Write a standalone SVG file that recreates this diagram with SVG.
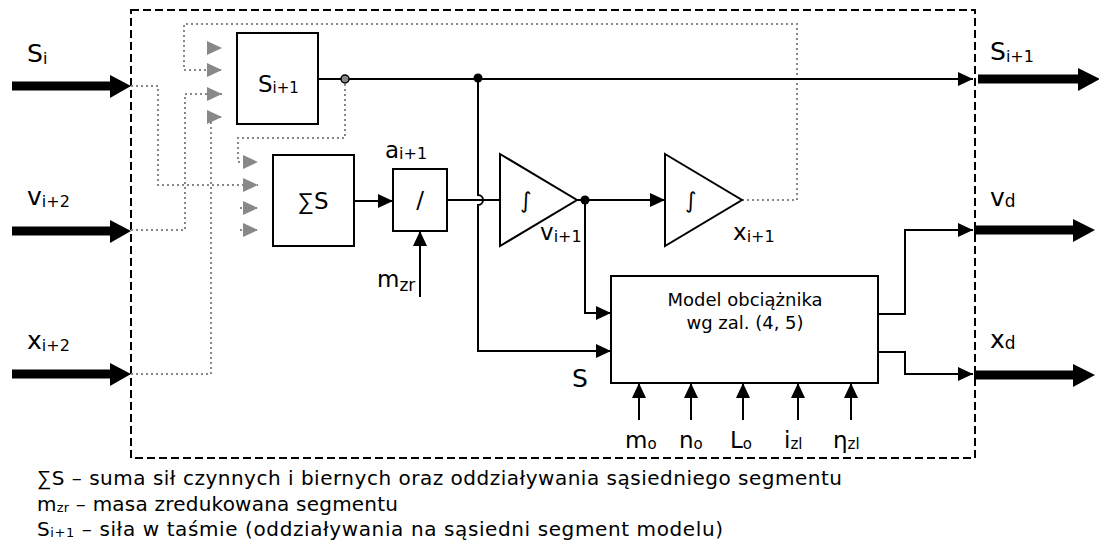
<svg xmlns="http://www.w3.org/2000/svg" width="1099" height="544" viewBox="0 0 1099 544">
<style>
text{font-family:"DejaVu Sans","Liberation Sans",sans-serif;fill:#000}
.ln{fill:none;stroke:#000;stroke-width:2}
.dt{fill:none;stroke:#888;stroke-width:2;stroke-dasharray:2 3}
.box{fill:#fff;stroke:#000;stroke-width:2}
.big{stroke:#000;stroke-width:9}
.lbl{font-size:25px}
.mid{font-size:23px}
.sub{font-size:15px}
.sig{font-family:"Liberation Sans",sans-serif}
</style>
<defs>
<marker id="ab" markerUnits="userSpaceOnUse" markerWidth="15" markerHeight="14" refX="15" refY="7" orient="auto"><path d="M0,0L15,7L0,14z" fill="#000"/></marker>
<marker id="ag" markerUnits="userSpaceOnUse" markerWidth="15" markerHeight="14" refX="15" refY="7" orient="auto"><path d="M0,0L15,7L0,14z" fill="#888"/></marker>
</defs>
<rect x="131" y="10" width="844" height="448" fill="none" stroke="#000" stroke-width="2" stroke-dasharray="8 4"/>
<g id="connectors">
<path class="dt" d="M742,200H797V24H184V70H222" marker-end="url(#ag)"/>
<path class="dt" d="M213,48H222" marker-end="url(#ag)"/>
<path class="dt" d="M131,86H158V185H258" marker-end="url(#ag)"/>
<path class="dt" d="M131,230H185V94H222" marker-end="url(#ag)"/>
<path class="dt" d="M131,374H211V117H222" marker-end="url(#ag)"/>
<path class="dt" d="M345,79V138H238V162H258" marker-end="url(#ag)"/>
<path class="dt" d="M240,208H258" marker-end="url(#ag)"/>
<path class="dt" d="M240,230H258" marker-end="url(#ag)"/>
<path class="ln" d="M318,79H973" marker-end="url(#ab)"/>
<path class="ln" d="M354,201H393" marker-end="url(#ab)"/>
<path class="ln" d="M420,297V231" marker-end="url(#ab)"/>
<path class="ln" d="M447,200H500"/>
<path class="ln" d="M478,78V195A5,5 0 0 1 478,205V351H611" marker-end="url(#ab)"/>
<path class="ln" d="M577,200H665" marker-end="url(#ab)"/>
<path class="ln" d="M585,200V313H611" marker-end="url(#ab)"/>
<path class="ln" d="M878,314H905V230H973" marker-end="url(#ab)"/>
<path class="ln" d="M878,352H905V374H973" marker-end="url(#ab)"/>
<path class="ln" d="M639,420V383" marker-end="url(#ab)"/>
<path class="ln" d="M691,420V383" marker-end="url(#ab)"/>
<path class="ln" d="M743,420V383" marker-end="url(#ab)"/>
<path class="ln" d="M798,420V383" marker-end="url(#ab)"/>
<path class="ln" d="M851,420V383" marker-end="url(#ab)"/>
<circle cx="345" cy="79" r="4" fill="#888" stroke="#000" stroke-width="1.5"/>
<circle cx="478" cy="78" r="4.5" fill="#000"/>
<circle cx="585" cy="200" r="4.5" fill="#000"/>
<line class="big" x1="12" y1="86" x2="112" y2="86"/><path d="M110,75L131,86L110,98z"/>
<line class="big" x1="12" y1="231" x2="112" y2="231"/><path d="M110,220L131,231L110,243z"/>
<line class="big" x1="12" y1="374" x2="112" y2="374"/><path d="M110,363L131,374L110,386z"/>
<line class="big" x1="978" y1="79" x2="1080" y2="79"/><path d="M1078,68L1100,79L1078,91z"/>
<line class="big" x1="974" y1="230" x2="1075" y2="230"/><path d="M1073,219L1095,230L1073,242z"/>
<line class="big" x1="974" y1="375" x2="1075" y2="375"/><path d="M1073,364L1095,375L1073,387z"/>
</g>
<g id="io-labels">
<text class="lbl" x="27" y="62">S<tspan font-size="16" dy="2">i</tspan></text>
<text class="lbl" x="27" y="205">v<tspan font-size="16" dy="2">i+2</tspan></text>
<text class="lbl" x="27" y="349">x<tspan font-size="16" dy="2">i+2</tspan></text>
<text class="lbl" x="990" y="60">S<tspan font-size="16" dy="2">i+1</tspan></text>
<text class="lbl" x="990" y="206">v<tspan font-size="17" dy="1">d</tspan></text>
<text class="lbl" x="990" y="348">x<tspan font-size="17" dy="1">d</tspan></text>
</g>
<g id="box-S">
<rect class="box" x="237" y="33" width="81" height="91"/>
<text class="mid" x="258" y="92">S<tspan class="sub" dy="1">i+1</tspan></text>
</g>
<g id="box-sum">
<rect class="box" x="273" y="155" width="81" height="91"/>
<text class="mid" x="313" y="209" text-anchor="middle"><tspan class="sig">∑</tspan>S</text>
</g>
<g id="box-div">
<rect class="box" x="393" y="169" width="54" height="62"/>
<text class="mid" x="420" y="208" text-anchor="middle">/</text>
<text class="mid" x="385" y="158">a<tspan font-size="16" dy="1">i+1</tspan></text>
<text class="mid" x="377" y="287">m<tspan font-size="17" dy="4">zr</tspan></text>
</g>
<g id="int1">
<path class="box" d="M500,154L577,200L500,246z"/>
<text font-size="22" x="520" y="208">∫</text>
<text class="mid" x="540" y="240">v<tspan font-size="16" dy="2">i+1</tspan></text>
</g>
<g id="int2">
<path class="box" d="M665,154L742,200L665,246z"/>
<text font-size="22" x="685" y="208">∫</text>
<text class="mid" x="733" y="240">x<tspan font-size="16" dy="2">i+1</tspan></text>
</g>
<g id="model">
<rect class="box" x="611" y="276" width="267" height="107"/>
<text font-size="18" x="745" y="306" text-anchor="middle">Model obciążnika</text>
<text font-size="18" x="745" y="329" text-anchor="middle">wg zal. (4, 5)</text>
<text class="lbl" x="572" y="387">S</text>
<text class="mid" x="625" y="448">m<tspan class="sub" dy="1">o</tspan></text>
<text class="mid" x="679" y="448">n<tspan class="sub" dy="1">o</tspan></text>
<text class="mid" x="730" y="448">L<tspan class="sub" dy="1">o</tspan></text>
<text class="mid" x="784" y="448">i<tspan class="sub" dy="1">zl</tspan></text>
<text class="mid" x="833" y="448">η<tspan class="sub" dy="1">zl</tspan></text>
</g>
<g id="legend">
<text font-size="20" x="37" y="485" textLength="805"><tspan class="sig">∑</tspan>S – suma sił czynnych i biernych oraz oddziaływania sąsiedniego segmentu</text>
<text font-size="20" x="37" y="511" textLength="361">m<tspan font-size="13" dy="1">zr</tspan><tspan dy="-1"> – masa zredukowana segmentu</tspan></text>
<text font-size="20" x="37" y="536" textLength="686">S<tspan font-size="13" dy="1">i+1</tspan><tspan dy="-1"> – siła w taśmie (oddziaływania na sąsiedni segment modelu)</tspan></text>
</g>
</svg>
